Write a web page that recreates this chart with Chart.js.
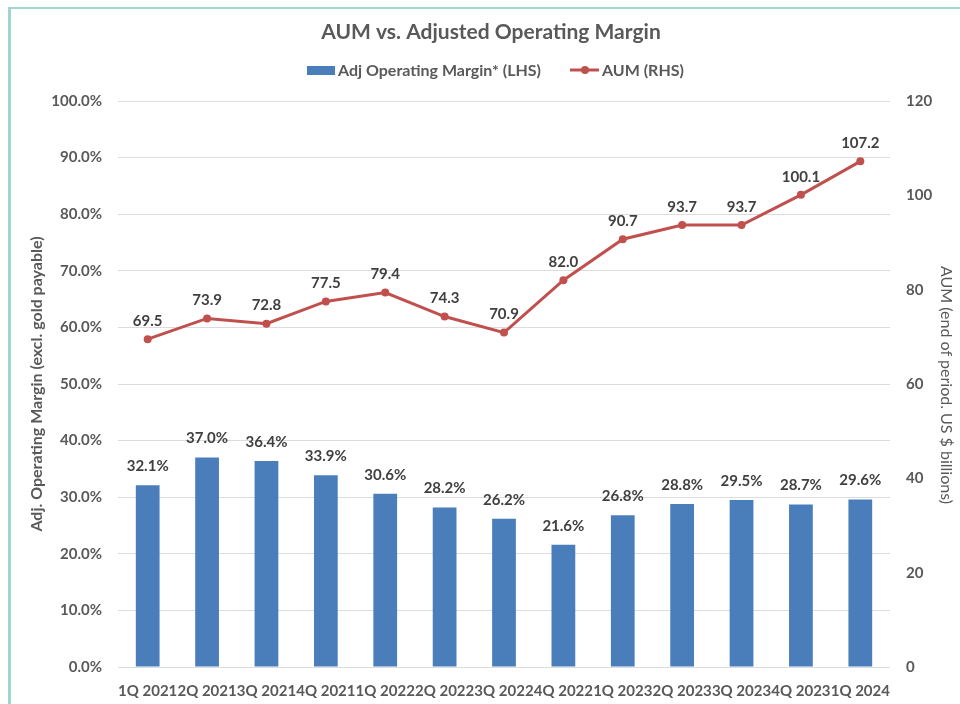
<!DOCTYPE html>
<html>
<head>
<meta charset="utf-8">
<script src="https://cdn.jsdelivr.net/npm/chart.js@4/dist/chart.umd.min.js"></script>
<style>
html,body{margin:0;padding:0;background:#fff;}
#wrap{position:relative;width:960px;height:704px;}
</style>
</head>
<body>
<div id="wrap"><canvas id="c" width="960" height="704"></canvas></div>
<script>
const categories = ["1Q 2021","2Q 2021","3Q 2021","4Q 2021","1Q 2022","2Q 2022","3Q 2022","4Q 2022","1Q 2023","2Q 2023","3Q 2023","4Q 2023","1Q 2024"];
const marginPct = [32.1, 37.0, 36.4, 33.9, 30.6, 28.2, 26.2, 21.6, 26.8, 28.8, 29.5, 28.7, 29.6];
const aum = [69.5, 73.9, 72.8, 77.5, 79.4, 74.3, 70.9, 82.0, 90.7, 93.7, 93.7, 100.1, 107.2];
const titleText = "AUM vs. Adjusted Operating Margin";
const barLabel = "Adj Operating Margin* (LHS)";
const lineLabel = "AUM (RHS)";
const leftTitle = "Adj. Operating Margin (excl. gold payable)";
const rightTitle = "AUM (end of period. US $ billions)";

const FONT = "Lato, 'Open Sans', sans-serif";
const TXT = "#595959";
const BLUE = "#4a7ebb";
const RED = "#c0504d";

const decor = {
  id: 'decor',
  beforeDraw(chart) {
    const ctx = chart.ctx;
    ctx.save();
    ctx.fillStyle = '#fff';
    ctx.fillRect(0, 0, chart.width, chart.height);
    ctx.fillStyle = '#9fd6d0';
    ctx.fillRect(8, 7, chart.width - 8, 2);
    ctx.fillRect(8, 7, 3, chart.height - 7);
    ctx.restore();
  },
  afterDatasetsDraw(chart) {
    const ctx = chart.ctx;
    ctx.save();
    ctx.font = "bold 15px " + FONT;
    ctx.fillStyle = "#404040";
    ctx.textAlign = 'center';
    ctx.textBaseline = 'middle';
    chart.getDatasetMeta(0).data.forEach((el, i) => {
      ctx.fillText(marginPct[i].toFixed(1) + '%', el.x, el.y - 19);
    });
    chart.getDatasetMeta(1).data.forEach((el, i) => {
      ctx.fillText(aum[i].toFixed(1), el.x, el.y - 18);
    });
    ctx.restore();
  },
  afterDraw(chart) {
    const ctx = chart.ctx;
    ctx.save();
    ctx.fillStyle = TXT;
    ctx.textBaseline = 'middle';
    ctx.textAlign = 'center';
    ctx.font = "bold 21px " + FONT;
    ctx.fillText(titleText, 491, 32);
    // legend
    ctx.font = "bold 16px " + FONT;
    ctx.textAlign = 'left';
    ctx.fillStyle = BLUE;
    ctx.fillRect(307, 66, 28, 9);
    ctx.fillStyle = TXT;
    ctx.fillText(barLabel, 338, 71);
    ctx.strokeStyle = RED;
    ctx.lineWidth = 3;
    ctx.beginPath(); ctx.moveTo(570, 70); ctx.lineTo(599, 70); ctx.stroke();
    ctx.fillStyle = RED;
    ctx.beginPath(); ctx.arc(585, 70, 4, 0, Math.PI * 2); ctx.fill();
    ctx.fillStyle = TXT;
    ctx.fillText(lineLabel, 602, 71);
    // axis titles
    ctx.textAlign = 'center';
    ctx.font = "bold 16px " + FONT;
    ctx.save();
    ctx.translate(37, 384);
    ctx.rotate(-Math.PI / 2);
    ctx.fillText(leftTitle, 0, 0);
    ctx.restore();
    ctx.font = "16px " + FONT;
    ctx.save();
    ctx.translate(946, 385);
    ctx.rotate(Math.PI / 2);
    ctx.fillText(rightTitle, 0, 0);
    ctx.restore();
    ctx.restore();
  }
};

new Chart(document.getElementById('c'), {
  data: {
    labels: categories,
    datasets: [
      {
        type: 'bar', label: barLabel, data: marginPct, yAxisID: 'y',
        backgroundColor: BLUE, barPercentage: 0.4, categoryPercentage: 1.0, order: 2
      },
      {
        type: 'line', label: lineLabel, data: aum, yAxisID: 'y1',
        borderColor: RED, backgroundColor: RED, borderWidth: 3,
        pointRadius: 4, pointBackgroundColor: RED, pointBorderWidth: 0,
        tension: 0, order: 1
      }
    ]
  },
  options: {
    responsive: false,
    animation: false,
    devicePixelRatio: 1,
    layout: { padding: { top: 101, left: 0, right: 0, bottom: 0 } },
    plugins: { legend: { display: false }, title: { display: false }, tooltip: { enabled: false } },
    scales: {
      x: {
        offset: true,
        grid: { display: false, drawTicks: false },
        border: { display: false },
        ticks: { color: TXT, font: { family: FONT, size: 15, weight: 'bold' }, maxRotation: 0, minRotation: 0, autoSkip: false, padding: 15 },
        afterFit(s) { s.height = 37; }
      },
      y: {
        position: 'left', min: 0, max: 100,
        ticks: { stepSize: 10, color: TXT, font: { family: FONT, size: 15, weight: 'bold' }, padding: 16,
          callback: v => Number(v).toFixed(1) + '%' },
        grid: { color: '#dcdcdc', lineWidth: 1, drawTicks: false },
        border: { display: false },
        afterFit(s) { s.width = 118; }
      },
      y1: {
        position: 'right', min: 0, max: 120,
        ticks: { stepSize: 20, color: TXT, font: { family: FONT, size: 15, weight: 'bold' }, padding: 16 },
        grid: { display: false, drawTicks: false },
        border: { display: false },
        afterFit(s) { s.width = 70; }
      }
    }
  },
  plugins: [decor]
});
</script>
</body>
</html>
